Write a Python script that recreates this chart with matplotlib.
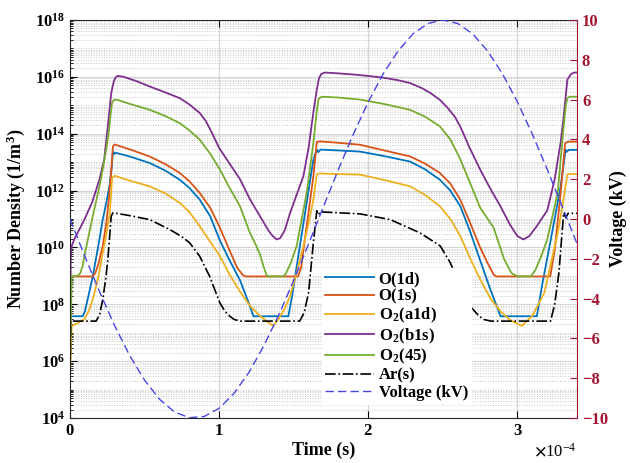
import numpy as np
import matplotlib
matplotlib.use('Agg')
import matplotlib.pyplot as plt
from matplotlib.ticker import FixedLocator, LogLocator, ScalarFormatter, NullFormatter

plt.rcParams['font.family'] = 'Liberation Serif'
plt.rcParams['font.weight'] = 'bold'
plt.rcParams['axes.labelweight'] = 'bold'
plt.rcParams['mathtext.fontset'] = 'stix'
plt.rcParams['font.size'] = 12

# time in units of 1e-4 s, densities given as log10(n) [1/m^3]
t_o1d = [0, 0.005, 0.086, 0.1, 0.12, 0.153, 0.19, 0.22, 0.245, 0.265, 0.28, 0.288, 0.295, 0.305, 0.4, 0.534,
         0.64, 0.736, 0.8, 0.87, 0.94, 1.005, 1.07, 1.14, 1.206, 1.23, 1.464, 1.49, 1.52, 1.587, 1.632, 1.655,
         1.665, 1.68, 1.8, 1.945, 2.1, 2.28, 2.38, 2.48, 2.55, 2.617, 2.68, 2.75, 2.82, 2.887, 3.13, 3.17,
         3.22, 3.29, 3.323, 3.33, 3.345, 3.4]
n_o1d = [5.5, 7.58, 7.58, 7.75, 8.2, 8.98, 10.05, 10.98, 11.6, 12.15, 12.8, 13.38, 13.28, 13.33, 13.2, 12.97,
         12.7, 12.38, 12.1, 11.68, 11.1, 10.25, 9.55, 8.85, 7.95, 7.58, 7.58, 8.3, 9.33, 11.57, 13.09, 13.44,
         13.35, 13.44, 13.41, 13.37, 13.22, 13.02, 12.75, 12.38, 12.0, 11.45, 10.6, 9.55, 8.5, 7.58, 7.58, 8.8,
         10.17, 12.15, 13.44, 13.36, 13.43, 13.43]

t_o1s = [0, 0.005, 0.153, 0.17, 0.19, 0.22, 0.245, 0.265, 0.28, 0.288, 0.3, 0.4, 0.534, 0.64, 0.736, 0.8,
         0.87, 0.94, 1.005, 1.07, 1.12, 1.16, 1.18, 1.53, 1.55, 1.587, 1.632, 1.655, 1.675, 1.8, 1.945, 2.1,
         2.28, 2.38, 2.48, 2.55, 2.617, 2.68, 2.75, 2.8, 2.84, 2.86, 3.22, 3.25, 3.29, 3.32, 3.34, 3.4]
n_o1s = [5.5, 8.98, 8.98, 9.1, 9.4, 10.05, 10.9, 11.92, 12.9, 13.55, 13.62, 13.45, 13.2, 12.93, 12.62, 12.33,
         11.92, 11.4, 10.7, 9.9, 9.3, 9.02, 8.98, 8.98, 9.3, 10.75, 12.5, 13.7, 13.73, 13.68, 13.61, 13.42,
         13.2, 12.95, 12.62, 12.25, 11.68, 10.9, 10.0, 9.45, 9.05, 8.98, 8.98, 9.9, 11.92, 13.67, 13.72, 13.72]

t_o2a = [0, 0.012, 0.05, 0.097, 0.125, 0.153, 0.19, 0.22, 0.245, 0.265, 0.275, 0.283, 0.3, 0.4, 0.534, 0.64,
         0.736, 0.8, 0.87, 0.94, 1.005, 1.07, 1.14, 1.206, 1.274, 1.32, 1.363, 1.4, 1.44, 1.475, 1.52, 1.565,
         1.6, 1.632, 1.645, 1.655, 1.67, 1.8, 1.945, 2.1, 2.28, 2.38, 2.48, 2.55, 2.617, 2.68, 2.75, 2.82,
         2.887, 2.95, 3.03, 3.1, 3.18, 3.27, 3.3, 3.335, 3.35, 3.4]
n_o2a = [5.5, 7.24, 7.33, 7.47, 7.75, 8.17, 8.95, 9.81, 10.5, 11.1, 11.8, 12.45, 12.52, 12.35, 12.15, 11.9,
         11.57, 11.25, 10.75, 10.2, 9.7, 9.05, 8.45, 7.95, 7.6, 7.4, 7.24, 7.5, 7.85, 8.28, 9.1, 10.05,
         10.85, 11.68, 12.2, 12.56, 12.6, 12.58, 12.56, 12.38, 12.15, 11.85, 11.45, 11.0, 10.4, 9.65, 8.88, 8.2,
         7.75, 7.45, 7.24, 7.6, 8.4, 10.5, 11.4, 12.56, 12.58, 12.58]

t_o2b = [0, 0.005, 0.012, 0.03, 0.06, 0.097, 0.15, 0.198, 0.23, 0.254, 0.277, 0.29, 0.30, 0.31, 0.321, 0.36,
         0.45, 0.534, 0.64, 0.736, 0.8, 0.87, 0.91, 0.95, 1.0, 1.07, 1.14, 1.206, 1.274, 1.33, 1.36, 1.386,
         1.41, 1.44, 1.475, 1.52, 1.565, 1.6, 1.632, 1.655, 1.67, 1.685, 1.71, 1.8, 1.9, 2.0, 2.1, 2.2, 2.28,
         2.36, 2.42, 2.48, 2.53, 2.58, 2.617, 2.68, 2.75, 2.82, 2.887, 2.95, 3.0, 3.04, 3.08, 3.13, 3.2, 3.25,
         3.29, 3.31, 3.335, 3.36, 3.38, 3.4]
n_o2b = [5.5, 9.6, 10.05, 10.3, 10.6, 10.98, 11.6, 12.39, 13.1, 14.26, 15.43, 15.75, 15.92, 16.0, 16.03, 16.0,
         15.84, 15.66, 15.45, 15.25, 15.03, 14.73, 14.45, 14.05, 13.5, 12.95, 12.4, 11.7, 11.1, 10.6, 10.4,
         10.28, 10.33, 10.6, 11.2, 11.85, 12.5, 13.5, 14.75, 15.55, 15.95, 16.1, 16.15, 16.12, 16.08, 16.03,
         15.97, 15.88, 15.78, 15.6, 15.42, 15.19, 14.92, 14.6, 14.25, 13.5, 12.74, 12.05, 11.44, 10.8, 10.4,
         10.28, 10.4, 10.75, 11.3, 12.4, 13.7, 14.6, 15.9, 16.1, 16.15, 16.15]

t_o245 = [0, 0.012, 0.05, 0.07, 0.085, 0.097, 0.125, 0.153, 0.19, 0.22, 0.245, 0.265, 0.275, 0.283, 0.295,
          0.31, 0.4, 0.534, 0.64, 0.736, 0.8, 0.87, 0.94, 1.005, 1.07, 1.14, 1.206, 1.25, 1.274, 1.3, 1.319,
          1.33, 1.431, 1.45, 1.48, 1.52, 1.587, 1.632, 1.655, 1.666, 1.68, 1.7, 1.8, 1.945, 2.1, 2.28, 2.38,
          2.48, 2.55, 2.617, 2.68, 2.75, 2.84, 2.91, 2.96, 3.0, 3.09, 3.12, 3.16, 3.2, 3.27, 3.31, 3.325,
          3.335, 3.35, 3.4]
n_o245 = [5.5, 8.98, 8.99, 9.1, 9.35, 9.7, 10.4, 11.1, 11.95, 12.74, 13.5, 14.26, 14.8, 15.1, 15.18, 15.2,
          15.05, 14.84, 14.62, 14.37, 14.12, 13.79, 13.3, 12.74, 12.1, 11.45, 10.52, 10.05, 9.75, 9.3, 9.02,
          8.98, 8.98, 9.1, 9.45, 10.05, 11.92, 13.67, 14.8, 15.2, 15.28, 15.3, 15.27, 15.2, 15.05, 14.84, 14.6,
          14.26, 13.8, 13.1, 12.3, 11.4, 10.7, 9.6, 9.1, 8.98, 8.98, 9.2, 9.7, 10.28, 11.92, 14.26, 15.0,
          15.25, 15.3, 15.3]

t_ar = [0, 0.005, 0.176, 0.2, 0.22, 0.24, 0.254, 0.265, 0.277, 0.288, 0.4, 0.534, 0.669, 0.75, 0.803, 0.87,
        0.937, 1.005, 1.04, 1.072, 1.1, 1.14, 1.54, 1.57, 1.6, 1.632, 1.655, 1.665, 1.68, 1.8, 1.945, 2.147,
        2.348, 2.483, 2.55, 2.617, 2.684, 2.74, 2.774, 2.82, 3.222, 3.25, 3.278, 3.31, 3.325, 3.34, 3.4]
n_ar = [5.0, 7.41, 7.41, 7.65, 8.17, 8.9, 9.57, 10.3, 11.1, 11.22, 11.12, 10.98, 10.63, 10.38, 10.16, 9.69,
        8.98, 8.05, 7.75, 7.58, 7.47, 7.41, 7.41, 7.7, 8.41, 10.17, 11.29, 11.15, 11.25, 11.22, 11.18, 10.98,
        10.51, 10.05, 9.46, 8.64, 7.93, 7.6, 7.47, 7.41, 7.41, 8.0, 9.1, 11.22, 11.05, 11.2, 11.2]

t_volt = [0, 0.1, 0.2, 0.3, 0.4, 0.5, 0.6, 0.7, 0.8, 0.9, 1.0, 1.1, 1.2, 1.3, 1.4, 1.5, 1.6, 1.7,
          1.8, 1.9, 2.0, 2.1, 2.2, 2.3, 2.4, 2.5, 2.6, 2.7, 2.8, 2.9, 3.0, 3.1, 3.2, 3.3, 3.4]
volt = [0, -1.87, -3.68, -5.36, -6.85, -8.09, -9.05, -9.69, -9.98, -9.92, -9.51, -8.76, -7.71, -6.37,
        -4.82, -3.09, -1.25, 0.63, 2.49, 4.26, 5.88, 7.29, 8.44, 9.30, 9.82, 10.0, 9.82, 9.30, 8.44, 7.29,
        5.88, 4.26, 2.49, 0.63, -1.25]

labels = ['O(1d)', 'O(1s)', r'O$_{\mathdefault{2}}$(a1d)', r'O$_{\mathdefault{2}}$(b1s)',
          r'O$_{\mathdefault{2}}$(45)', 'Ar(s)', 'Voltage (kV)']
colors = ['#0072BD', '#D95319', '#EDB120', '#7E2F8E', '#77AC30']
red = '#A2142F'

fig = plt.figure(figsize=(6.3, 4.63), dpi=100)
ax = fig.add_axes([0.111, 0.097, 0.805, 0.86])

series = [(t_o1d, n_o1d), (t_o1s, n_o1s), (t_o2a, n_o2a), (t_o2b, n_o2b), (t_o245, n_o245)]
handles = []
for (t, n), c, lab in zip(series, colors, labels):
    h, = ax.semilogy(np.array(t) * 1e-4, 10 ** np.array(n), color=c, lw=1.3, label=lab)
    handles.append(h)
h, = ax.semilogy(np.array(t_ar) * 1e-4, 10 ** np.array(n_ar), color='black', lw=1.2, ls='-.', label=labels[5])
handles.append(h)

ax.set_xlim(0, 3.4e-4)
ax.set_ylim(1e4, 1e18)
ax.yaxis.set_major_locator(FixedLocator([10.0 ** k for k in range(4, 19, 2)]))
ax.yaxis.set_minor_locator(LogLocator(base=10, subs=np.arange(1, 10), numticks=100))
ax.yaxis.set_minor_formatter(NullFormatter())
ax.set_xticks([0, 1e-4, 2e-4, 3e-4])
fmt = ScalarFormatter(useMathText=True)
fmt.set_powerlimits((-3, 3))
ax.xaxis.set_major_formatter(fmt)
ax.xaxis.get_offset_text().set_fontweight('normal')

ax.grid(True, which='major', color='#d4d4d4', lw=0.8)
ax.grid(True, which='minor', axis='y', color='#c8c8c8', ls=':', lw=0.7)
ax.set_axisbelow(True)
ax.tick_params(which='both', direction='in', top=True)
ax.tick_params(which='major', length=5)
ax.tick_params(which='minor', length=2.5)
ax.tick_params(axis='x', which='minor', top=False, bottom=False)
ax.spines['right'].set_visible(False)
for s in ['top', 'left', 'bottom']:
    ax.spines[s].set_color('#262626')

ax.set_xlabel('Time (s)', fontsize=13, labelpad=2)
ax.set_ylabel(r'Number Density (1/m$^{\mathdefault{3}}$)', fontsize=13, labelpad=6)

ax2 = ax.twinx()
hv, = ax2.plot(np.array(t_volt) * 1e-4, volt, color='#4646E6', lw=1.0, dashes=(6, 3), label=labels[6])
handles.append(hv)
ax2.set_ylim(-10, 10)
ax2.set_yticks(range(-10, 11, 2))
ax2.tick_params(axis='y', direction='in', colors=red, length=5)
ax2.spines['right'].set_color(red)
ax2.spines['left'].set_visible(False)
ax2.spines['top'].set_visible(False)
ax2.spines['bottom'].set_visible(False)
ax2.set_ylabel('Voltage (kV)', fontsize=13, color='black', labelpad=1)

ax2.legend(handles, labels, loc='upper left', bbox_to_anchor=(0.497, 0.377), borderaxespad=0,
           frameon=True, facecolor='white', edgecolor='white', framealpha=1, fancybox=False,
           handlelength=2.9, borderpad=0.2, labelspacing=0.08, handletextpad=0.3, fontsize=12)

fig.savefig('out.png', dpi=100)
